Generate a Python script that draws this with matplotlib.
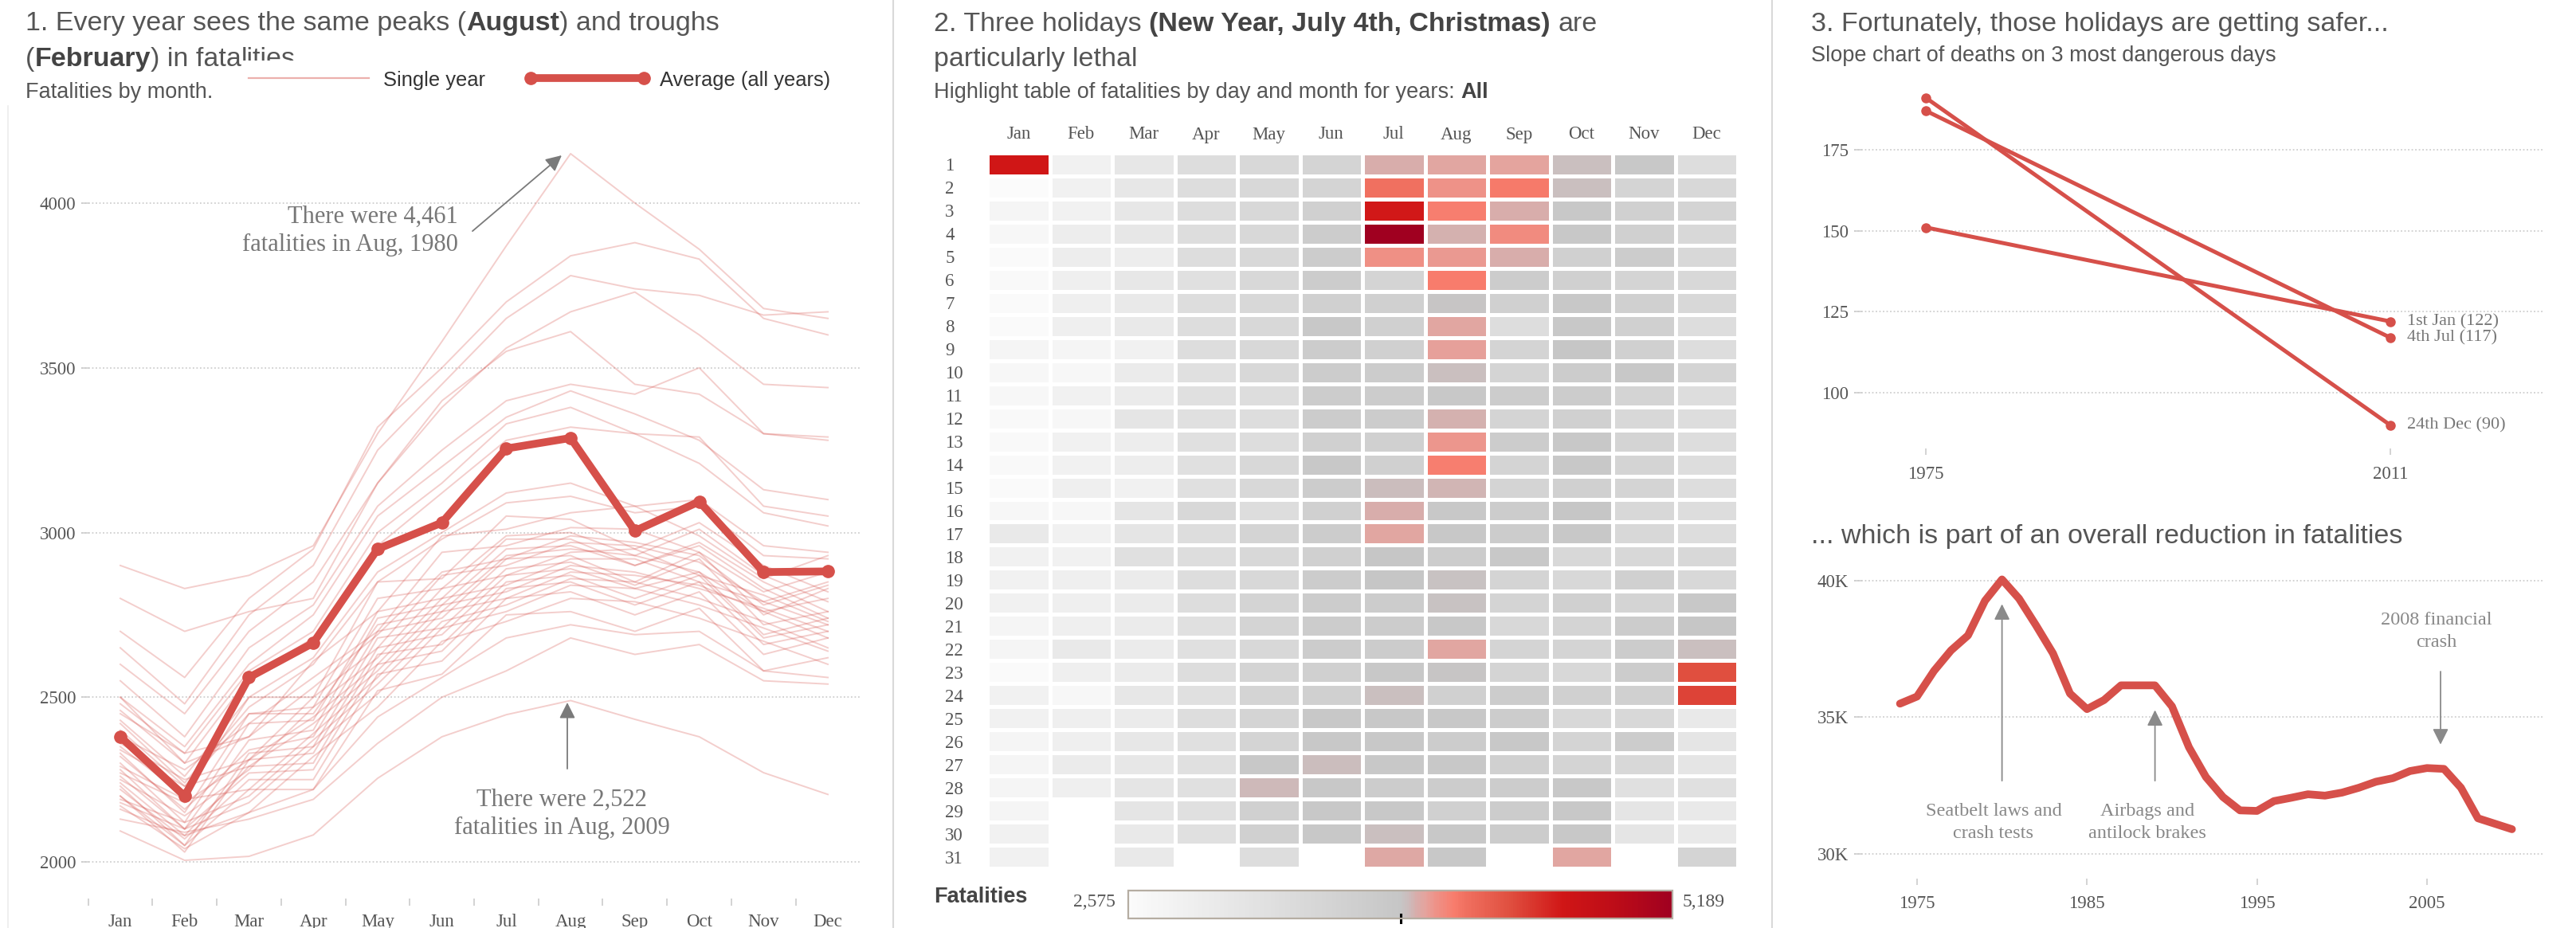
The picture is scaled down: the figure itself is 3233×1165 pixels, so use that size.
import numpy as np
import matplotlib
matplotlib.use("Agg")
import matplotlib.pyplot as plt
from matplotlib.colors import LinearSegmentedColormap, Normalize
from matplotlib.cm import ScalarMappable
from matplotlib.lines import Line2D
from matplotlib.transforms import Bbox
from matplotlib.ticker import FuncFormatter

SANS = 'Liberation Sans'
SERIF = 'Liberation Serif'
RED = '#d6504a'
GREY_TXT = '#555555'

# ---------------- data ----------------
months = ['Jan', 'Feb', 'Mar', 'Apr', 'May', 'Jun',
          'Jul', 'Aug', 'Sep', 'Oct', 'Nov', 'Dec']

# monthly fatalities, one row per year
single_years = [
    [2900, 2830, 2870, 2960, 3300, 3580, 3870, 4150, 4000, 3860, 3680, 3650],
    [2700, 2560, 2800, 2950, 3320, 3500, 3700, 3840, 3880, 3830, 3650, 3600],
    [2650, 2480, 2750, 2900, 3250, 3450, 3650, 3780, 3740, 3720, 3660, 3670],
    [2600, 2450, 2700, 2850, 3150, 3380, 3560, 3670, 3730, 3600, 3450, 3440],
    [2800, 2700, 2760, 2800, 3150, 3400, 3550, 3610, 3450, 3420, 3300, 3280],
    [2550, 2380, 2650, 2780, 3080, 3250, 3400, 3450, 3420, 3500, 3300, 3290],
    [2500, 2350, 2600, 2750, 3050, 3200, 3350, 3430, 3360, 3280, 3130, 3100],
    [2480, 2330, 2580, 2700, 3000, 3150, 3330, 3380, 3300, 3290, 3080, 3050],
    [2460, 2300, 2560, 2680, 2960, 3120, 3280, 3320, 3300, 3210, 3060, 3020],
    [2430, 2260, 2500, 2620, 2880, 3000, 3120, 3150, 3080, 3100, 2960, 2940],
    [2420, 2240, 2470, 2600, 2850, 2980, 3090, 3110, 3060, 3080, 2930, 2920],
    [2500, 2300, 2380, 2610, 2760, 2990, 3010, 3060, 3080, 2990, 2860, 2930],
    [2350, 2200, 2500, 2500, 2850, 2860, 3050, 3040, 2950, 3030, 2900, 2820],
    [2380, 2280, 2420, 2560, 2700, 2940, 2960, 3015, 3010, 2940, 2820, 2880],
    [2330, 2150, 2450, 2470, 2800, 2830, 2990, 3000, 2930, 3010, 2870, 2790],
    [2450, 2330, 2380, 2530, 2690, 2880, 2920, 2990, 2970, 2930, 2780, 2840],
    [2300, 2120, 2420, 2430, 2760, 2800, 2980, 2980, 2900, 2970, 2850, 2760],
    [2360, 2250, 2310, 2500, 2650, 2870, 2900, 2970, 2960, 2910, 2790, 2850],
    [2280, 2100, 2370, 2400, 2740, 2780, 2950, 2960, 2900, 2960, 2830, 2740],
    [2400, 2230, 2450, 2450, 2720, 2760, 2930, 2950, 2930, 2880, 2760, 2800],
    [2250, 2140, 2280, 2470, 2620, 2830, 2870, 2940, 2950, 2870, 2810, 2730],
    [2320, 2160, 2340, 2380, 2700, 2740, 2920, 2930, 2850, 2940, 2750, 2830],
    [2270, 2180, 2310, 2440, 2600, 2800, 2840, 2920, 2920, 2850, 2790, 2720],
    [2230, 2050, 2330, 2350, 2680, 2710, 2890, 2910, 2840, 2920, 2720, 2760],
    [2340, 2230, 2290, 2420, 2580, 2780, 2820, 2900, 2880, 2830, 2770, 2700],
    [2200, 2030, 2310, 2330, 2650, 2690, 2870, 2890, 2830, 2880, 2690, 2740],
    [2290, 2190, 2220, 2390, 2560, 2760, 2800, 2880, 2870, 2840, 2760, 2680],
    [2240, 2080, 2290, 2300, 2630, 2660, 2850, 2870, 2800, 2870, 2680, 2720],
    [2190, 2120, 2200, 2370, 2540, 2730, 2780, 2860, 2850, 2800, 2730, 2650],
    [2260, 2100, 2270, 2280, 2600, 2640, 2830, 2850, 2780, 2850, 2660, 2700],
    [2180, 2100, 2180, 2350, 2510, 2710, 2760, 2840, 2830, 2780, 2710, 2640],
    [2220, 2070, 2250, 2250, 2570, 2610, 2800, 2820, 2750, 2820, 2630, 2680],
    [2160, 2080, 2150, 2320, 2470, 2670, 2730, 2800, 2790, 2740, 2670, 2600],
    [2200, 2050, 2220, 2220, 2520, 2570, 2750, 2760, 2700, 2770, 2580, 2620],
    [2170, 2040, 2150, 2220, 2440, 2560, 2680, 2720, 2690, 2700, 2580, 2560],
    [2130, 2090, 2130, 2190, 2360, 2500, 2580, 2680, 2630, 2660, 2550, 2540],
    [2094, 2005, 2017, 2082, 2254, 2380, 2447, 2490, 2433, 2380, 2271, 2205],
]
average_all = [2380, 2200, 2560, 2665, 2950, 3030, 3255, 3287, 3005, 3094, 2880, 2882]

# highlight table: rows = day 1..31, cols = Jan..Dec
nan = np.nan
heat = [
    [4666, 2830, 3080, 3330, 3430, 3530, 3960, 3990, 4000, 3910, 3830, 3330],
    [2575, 2830, 3080, 3330, 3430, 3530, 4190, 4050, 4150, 3905, 3530, 3430],
    [2730, 2830, 3080, 3330, 3430, 3630, 4650, 4130, 3960, 3830, 3630, 3530],
    [2680, 2930, 3080, 3330, 3430, 3730, 5189, 3950, 4080, 3830, 3630, 3430],
    [2600, 2930, 2930, 3330, 3430, 3730, 4060, 4030, 3955, 3630, 3730, 3430],
    [2640, 2880, 3080, 3230, 3430, 3730, 3530, 4140, 3730, 3630, 3530, 3430],
    [2600, 2880, 3030, 3330, 3430, 3630, 3630, 3890, 3630, 3830, 3630, 3430],
    [2600, 2880, 3030, 3330, 3430, 3830, 3630, 3990, 3330, 3830, 3630, 3330],
    [2730, 2730, 2830, 3330, 3430, 3730, 3630, 4010, 3530, 3880, 3630, 3330],
    [2680, 2680, 2980, 3230, 3430, 3730, 3730, 3910, 3530, 3730, 3830, 3530],
    [2680, 2830, 2980, 3230, 3330, 3730, 3730, 3830, 3730, 3730, 3530, 3330],
    [2640, 2680, 3130, 3230, 3330, 3730, 3730, 3950, 3530, 3630, 3430, 3330],
    [2640, 2830, 2930, 3230, 3330, 3630, 3630, 4040, 3730, 3830, 3530, 3330],
    [2640, 2830, 2930, 3230, 3430, 3830, 3630, 4130, 3530, 3830, 3530, 3330],
    [2600, 2880, 2830, 3230, 3430, 3730, 3920, 3935, 3530, 3630, 3530, 3330],
    [2680, 2680, 3130, 3430, 3330, 3630, 3960, 3830, 3730, 3880, 3430, 3330],
    [3030, 2830, 3130, 3330, 3530, 3730, 3990, 3830, 3730, 3830, 3430, 3330],
    [2830, 2830, 3230, 3330, 3430, 3630, 3880, 3730, 3830, 3430, 3430, 3430],
    [2830, 2880, 2980, 3330, 3430, 3730, 3880, 3895, 3530, 3430, 3630, 3430],
    [2830, 2880, 2980, 3330, 3530, 3730, 3730, 3895, 3530, 3630, 3530, 3830],
    [2730, 2880, 2980, 3230, 3530, 3730, 3730, 3830, 3430, 3530, 3730, 3880],
    [2730, 3030, 2980, 3230, 3430, 3730, 3730, 3990, 3530, 3530, 3730, 3905],
    [2600, 2880, 2980, 3330, 3530, 3630, 3830, 3890, 3530, 3430, 3730, 4405],
    [2830, 2680, 3080, 3230, 3530, 3630, 3905, 3630, 3730, 3630, 3630, 4460],
    [2830, 2880, 2980, 3330, 3530, 3830, 3830, 3830, 3730, 3430, 3430, 3030],
    [2730, 2880, 3080, 3230, 3530, 3830, 3830, 3730, 3830, 3530, 3730, 3130],
    [2730, 2980, 3080, 3230, 3830, 3920, 3830, 3830, 3630, 3530, 3430, 3130],
    [2730, 2880, 3130, 3230, 3930, 3830, 3730, 3730, 3730, 3830, 3230, 3230],
    [2730, nan, 3130, 3230, 3630, 3830, 3830, 3630, 3730, 3830, 3130, 3030],
    [2830, nan, 3030, 3230, 3630, 3830, 3910, 3830, 3730, 3830, 3130, 3030],
    [2830, nan, 3030, nan, 3330, nan, 3975, 3830, nan, 3990, nan, 3530],
]
heat_min, heat_max = 2575, 5189

# slope chart: deaths on the 3 most dangerous days
slope_years = [1975, 2011]
slope_days = ['1st Jan', '4th Jul', '24th Dec']
slope_vals = [[151, 122], [187, 117], [191, 90]]

# yearly fatalities
annual_years = list(range(1974, 2011))
annual_vals = [35500, 35760, 36700, 37450, 38000, 39270, 40050, 39350, 38370, 37340,
               35870, 35300, 35630, 36170, 36170, 36170, 35400, 33900, 32810, 32080,
               31590, 31570, 31930, 32050, 32180, 32130, 32240, 32420, 32640, 32770,
               33030, 33140, 33110, 32420, 31300, 31100, 30900]

# ---------------- figure ----------------
W, H = 3233, 1165
fig = plt.figure(figsize=(W / 100, H / 100), dpi=100)
fig.patch.set_facecolor('white')
renderer = fig.canvas.get_renderer()


def fx(x):
    return x / W


def fy(y):
    return 1 - y / H


def add_ax(left, top, right, bottom):
    return fig.add_axes([left / W, 1 - bottom / H, (right - left) / W, (bottom - top) / H])


def width_of(s, size, weight='normal'):
    t = fig.text(0, 0, s, fontsize=size, family=SANS, weight=weight)
    w = t.get_window_extent(renderer).width
    t.remove()
    return w


def rich(x, y, parts, size, clip_top=None):
    sp = width_of('a a', size) - width_of('aa', size)
    cur = x
    for s, bold in parts:
        lead = len(s) - len(s.lstrip(' '))
        trail = len(s) - len(s.rstrip(' '))
        cur += lead * sp
        core = s.strip(' ')
        t = fig.text(fx(cur), fy(y), core, fontsize=size, family=SANS,
                     weight='bold' if bold else 'normal',
                     color='#444444' if bold else GREY_TXT, va='baseline')
        if clip_top is not None and core == 'lities':
            t.set_clip_on(True)
            t.set_clip_box(Bbox.from_extents(0, H - clip_top, W, H))
        cur += t.get_window_extent(renderer).width + trail * sp


TITLE = 24.5
SUB = 19.5

# panel separators
for xs in (1121, 2224):
    fig.add_artist(Line2D([fx(xs)] * 2, [0, 1], color='#d9d9d9', lw=1.5))
fig.add_artist(Line2D([fx(10)] * 2, [0, fy(133)], color='#ececec', lw=1.2))

# ---------- panel 1: monthly lines ----------
rich(32, 38, [('1. Every year sees the same peaks (', False), ('August', True),
              (') and troughs', False)], TITLE)
rich(32, 83, [('(', False), ('February', True), (') in fata', False), ('lities', False)],
     TITLE, clip_top=76)
fig.text(fx(32), fy(123), 'Fatalities by month.', fontsize=SUB, family=SANS,
         color=GREY_TXT, va='baseline')

# legend
fig.add_artist(Line2D([fx(312), fx(463)], [fy(98)] * 2, color=RED, alpha=0.45, lw=1.6))
fig.add_artist(Line2D([fx(666), fx(808)], [fy(98)] * 2, color=RED, lw=7,
                      solid_capstyle='round'))
fig.add_artist(Line2D([fx(666), fx(808)], [fy(98)] * 2, color=RED, lw=0,
                      marker='o', ms=11))
fig.text(fx(481), fy(101), 'Single year', fontsize=18.4, family=SANS, color='#333333',
         va='center')
fig.text(fx(828), fy(101), 'Average (all years)', fontsize=18.4, family=SANS,
         color='#333333', va='center')

ax1 = add_ax(102, 140, 1081, 1128)
x = np.arange(12)
for row in single_years:
    ax1.plot(x, row, color=RED, alpha=0.28, lw=1.4)
ax1.plot(x, average_all, color=RED, lw=7, marker='o', ms=11, zorder=5,
         solid_capstyle='round', solid_joinstyle='round')
ax1.set_xlim(-0.607, 11.52)
ax1.set_ylim(1889, 4278)
ax1.set_yticks([2000, 2500, 3000, 3500, 4000])
ax1.yaxis.grid(True, linestyle=(0, (1, 1.5)), color='#cfcfcf', lw=1.3)
ax1.set_axisbelow(True)
ax1.set_xticks(x)
ax1.set_xticklabels(months)
ax1.set_xticks(np.arange(-0.5, 11, 1), minor=True)
ax1.tick_params(axis='x', which='major', length=0, pad=14, labelsize=16.5,
                labelcolor=GREY_TXT, labelfontfamily=SERIF)
ax1.tick_params(axis='x', which='minor', length=6.5, width=1.1, color='#c8c8c8')
ax1.tick_params(axis='y', direction='in', length=7, width=1.1, color='#cccccc', pad=5,
                labelsize=16.5, labelcolor=GREY_TXT, labelfontfamily=SERIF)
for sp in ax1.spines.values():
    sp.set_visible(False)

ax1.annotate('', xy=(6.862, 4145), xytext=(5.475, 3915),
             arrowprops=dict(arrowstyle='-|>,head_length=0.6,head_width=0.3',
                             color='#7a7a7a', lw=1.3, mutation_scale=20, shrinkA=0, shrinkB=0))
ax1.text(5.252, 3915, 'There were 4,461\nfatalities in Aug, 1980', ha='right', va='center',
         multialignment='right', fontsize=22, family=SERIF, color='#777777', linespacing=1.3)
ax1.annotate('', xy=(6.949, 2484), xytext=(6.949, 2283),
             arrowprops=dict(arrowstyle='-|>,head_length=0.6,head_width=0.3',
                             color='#7a7a7a', lw=1.3, mutation_scale=20, shrinkA=0, shrinkB=0))
ax1.text(6.862, 2145, 'There were 2,522\nfatalities in Aug, 2009', ha='center', va='center',
         fontsize=22, family=SERIF, color='#777777', linespacing=1.3)

# ---------- panel 2: highlight table ----------
rich(1172, 39, [('2. Three holidays ', False), ('(New Year, July 4th, Christmas)', True),
                (' are', False)], TITLE)
rich(1172, 83, [('particularly lethal', False)], TITLE)
rich(1172, 123, [('Highlight table of fatalities by day and month for years: ', False),
                 ('All', True)], SUB)

cmap = LinearSegmentedColormap.from_list('greyred', [
    (0.0, '#fbfbfb'), (0.5, '#c6c6c6'), (0.515, '#ccbcbc'), (0.53, '#d8acaa'),
    (0.545, '#e4a49e'), (0.565, '#ee9288'), (0.6, '#f87c6c'), (0.62, '#f07060'),
    (0.7, '#e05040'), (0.8, '#d01616'), (0.9, '#bc0c18'), (1.0, '#a00020')])
norm = Normalize(vmin=heat_min, vmax=heat_max)

ax2 = add_ax(1239, 192, 2181, 1090)
hm = np.ma.masked_invalid(np.array(heat, dtype=float))
ax2.pcolormesh(np.arange(13), np.arange(32), hm, cmap=cmap, norm=norm,
               edgecolors='white', linewidth=2.2)
ax2.set_xlim(0, 12)
ax2.set_ylim(31, 0)
ax2.xaxis.tick_top()
ax2.set_xticks(np.arange(12) + 0.5)
ax2.set_xticklabels(months)
ax2.set_yticks(np.arange(31) + 0.5)
ax2.set_yticklabels([str(d) for d in range(1, 32)])
ax2.tick_params(axis='x', length=0, pad=9, labelsize=16.5, labelcolor=GREY_TXT,
                labelfontfamily=SERIF)
ax2.tick_params(axis='y', length=0, pad=38, labelsize=16.5, labelcolor=GREY_TXT,
                labelfontfamily=SERIF)
for lab in ax2.get_yticklabels():
    lab.set_horizontalalignment('left')
for sp in ax2.spines.values():
    sp.set_visible(False)

fig.text(fx(1172), fy(1126), 'Fatalities', fontsize=19.5, family=SANS, weight='bold',
         color='#444444', va='center')
fig.text(fx(1400), fy(1133), '2,575', fontsize=17, family=SERIF, color=GREY_TXT,
         ha='right', va='center')
fig.text(fx(2112), fy(1133), '5,189', fontsize=17, family=SERIF, color=GREY_TXT,
         ha='left', va='center')
cax = add_ax(1416, 1118, 2099, 1153)
cb = fig.colorbar(ScalarMappable(norm=norm, cmap=cmap), cax=cax, orientation='horizontal')
cb.set_ticks([])
cb.outline.set_edgecolor('#b5ada2')
cb.outline.set_linewidth(1.6)
cax.add_line(Line2D([0.5007, 0.5007], [0.14, -0.15], transform=cax.transAxes,
                    color='black', lw=2.2, clip_on=False))

# ---------- panel 3a: slope chart ----------
fig.text(fx(2273), fy(39), '3. Fortunately, those holidays are getting safer...',
         fontsize=TITLE, family=SANS, color=GREY_TXT, va='baseline')
fig.text(fx(2273), fy(77), 'Slope chart of deaths on 3 most dangerous days',
         fontsize=SUB, family=SANS, color=GREY_TXT, va='baseline')

ax3 = add_ax(2327, 100, 3191, 563)
for name, vals in zip(slope_days, slope_vals):
    ax3.plot(slope_years, vals, color=RED, lw=3.6, marker='o', ms=8,
             solid_capstyle='round')
    ax3.text(slope_years[1] + 1.3, vals[1], f'{name} ({vals[1]})', fontsize=16,
             family=SERIF, color='#777777', va='center', ha='left')
ax3.set_xlim(1969.44, 2022.8)
ax3.set_ylim(82.8, 196.6)
ax3.set_yticks([100, 125, 150, 175])
ax3.set_xticks(slope_years)
ax3.yaxis.grid(True, linestyle=(0, (1, 1.5)), color='#cfcfcf', lw=1.3)
ax3.set_axisbelow(True)
ax3.tick_params(axis='x', length=6, width=1.1, color='#c8c8c8', pad=10, labelsize=16.5,
                labelcolor=GREY_TXT, labelfontfamily=SERIF)
ax3.tick_params(axis='y', direction='in', length=7, width=1.1, color='#cccccc', pad=5,
                labelsize=16.5, labelcolor=GREY_TXT, labelfontfamily=SERIF)
for sp in ax3.spines.values():
    sp.set_visible(False)

# ---------- panel 3b: yearly fatalities ----------
fig.text(fx(2273), fy(682), '... which is part of an overall reduction in fatalities',
         fontsize=TITLE, family=SANS, color=GREY_TXT, va='baseline')

ax4 = add_ax(2327, 700, 3191, 1103)
ax4.plot(annual_years, annual_vals, color=RED, lw=7, solid_capstyle='round',
         solid_joinstyle='round', zorder=4)
ax4.set_xlim(1971.30, 2011.80)
ax4.set_ylim(29090, 40850)
ax4.set_yticks([30000, 35000, 40000])
ax4.yaxis.set_major_formatter(FuncFormatter(lambda v, _: f'{int(v / 1000)}K'))
ax4.set_xticks([1975, 1985, 1995, 2005])
ax4.yaxis.grid(True, linestyle=(0, (1, 1.5)), color='#cfcfcf', lw=1.3)
ax4.set_axisbelow(True)
ax4.tick_params(axis='x', length=6, width=1.1, color='#c8c8c8', pad=9, labelsize=16.5,
                labelcolor=GREY_TXT, labelfontfamily=SERIF)
ax4.tick_params(axis='y', direction='in', length=7, width=1.1, color='#cccccc', pad=5,
                labelsize=16.5, labelcolor=GREY_TXT, labelfontfamily=SERIF)
for sp in ax4.spines.values():
    sp.set_visible(False)

arrow = dict(arrowstyle='-|>,head_length=0.6,head_width=0.3', color='#8a8a8a', lw=1.3,
             mutation_scale=20, shrinkA=0, shrinkB=0)
notes = [
    ('Seatbelt laws and\ncrash tests', 1979.5, 31147, 1980.0, 32676, 39147),
    ('Airbags and\nantilock brakes', 1988.55, 31147, 1989.0, 32676, 35265),
    ('2008 financial\ncrash', 2005.57, 38147, 2005.8, 36676, 34000),
]
for txt, tx, ty, axx, y0, y1 in notes:
    ax4.annotate('', xy=(axx, y1), xytext=(axx, y0), arrowprops=arrow, zorder=5)
    ax4.text(tx, ty, txt, ha='center', va='center', fontsize=17.5, family=SERIF,
             color='#888888', linespacing=1.4)

fig.savefig('out.png', dpi=100, facecolor='white')
